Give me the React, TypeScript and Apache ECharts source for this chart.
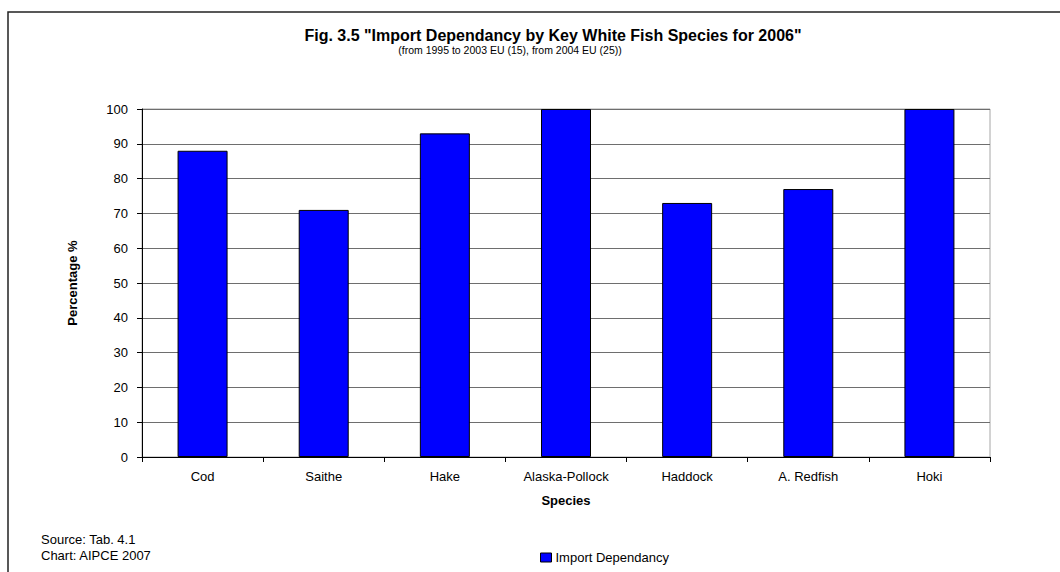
import React, { useEffect, useRef } from "react";
import * as echarts from "echarts";

// Import dependency by key white fish species, 2006 (%)
const species = ["Cod", "Saithe", "Hake", "Alaska-Pollock", "Haddock", "A. Redfish", "Hoki"];
const importDependancy = [88, 71, 93, 100, 73, 77, 100];
const seriesName = "Import Dependancy";

const titleText = 'Fig. 3.5 "Import Dependancy by Key White Fish Species for 2006"';
const subtitleText = "(from 1995 to 2003 EU (15), from 2004 EU (25))";
const sourceLines = ["Source: Tab. 4.1", "Chart: AIPCE 2007"];

const FONT = "Arial, 'Liberation Sans', sans-serif";

export default function App() {
  const ref = useRef<HTMLDivElement>(null);

  useEffect(() => {
    if (!ref.current) return;
    const chart = echarts.init(ref.current, undefined, { renderer: "svg" });
    chart.setOption({
      animation: false,
      backgroundColor: "#ffffff",
      textStyle: { fontFamily: FONT },
      grid: {
        left: 142,
        right: 70,
        top: 109,
        bottom: 115,
        show: true,
        borderColor: "#a6a6a6",
        borderWidth: 1,
      },
      legend: {
        data: [seriesName],
        icon: "rect",
        left: 540,
        top: 551,
        padding: 0,
        itemWidth: 11,
        itemHeight: 9,
        itemGap: 4,
        textStyle: { fontFamily: FONT, fontSize: 13, color: "#000", padding: [0, 0, 0, -1] },
        itemStyle: { borderColor: "#000", borderWidth: 1 },
      },
      xAxis: {
        type: "category",
        data: species,
        name: "Species",
        nameLocation: "middle",
        nameGap: 37,
        nameTextStyle: { fontFamily: FONT, fontSize: 13, fontWeight: "bold", color: "#000" },
        axisLine: { lineStyle: { color: "#000", width: 1 } },
        axisTick: { show: true, length: 5, inside: false, lineStyle: { color: "#000" } },
        axisLabel: { fontFamily: FONT, fontSize: 13, color: "#000", margin: 13 },
        splitLine: { show: false },
      },
      yAxis: {
        type: "value",
        min: 0,
        max: 100,
        interval: 10,
        name: "Percentage %",
        nameLocation: "middle",
        nameGap: 63,
        nameTextStyle: { fontFamily: FONT, fontSize: 13, fontWeight: "bold", color: "#000" },
        axisLine: { show: true, lineStyle: { color: "#000", width: 1 } },
        axisTick: { show: true, length: 5, inside: false, lineStyle: { color: "#000" } },
        axisLabel: { fontFamily: FONT, fontSize: 13, color: "#000", margin: 14 },
        splitLine: { show: true, lineStyle: { color: "#6e6e6e", width: 1 } },
      },
      series: [
        {
          name: seriesName,
          type: "bar",
          data: importDependancy,
          barWidth: 50,
          itemStyle: { color: "#0000ff", borderColor: "#000", borderWidth: 1 },
        },
      ],
      graphic: [
        {
          type: "rect",
          silent: true,
          shape: { x: 8, y: 12, width: 1200, height: 800 },
          style: { fill: "none", stroke: "#222", lineWidth: 1.5 },
        },
        {
          type: "text",
          x: 553,
          y: 35,
          style: {
            text: titleText,
            fontFamily: FONT,
            fontSize: 16,
            fontWeight: "bold",
            fill: "#000",
            textAlign: "center",
            textVerticalAlign: "middle",
          },
        },
        {
          type: "text",
          x: 510,
          y: 50,
          style: {
            text: subtitleText,
            fontFamily: FONT,
            fontSize: 10.5,
            fill: "#000",
            textAlign: "center",
            textVerticalAlign: "middle",
          },
        },
        ...sourceLines.map((line, i) => ({
          type: "text",
          x: 41,
          y: 539 + i * 16,
          style: {
            text: line,
            fontFamily: FONT,
            fontSize: 13,
            fill: "#000",
            textAlign: "left",
            textVerticalAlign: "middle",
          },
        })),
      ],
    });
    return () => chart.dispose();
  }, []);

  return (
    <div
      ref={ref}
      style={{ position: "absolute", left: 0, top: 0, width: 1060, height: 572 }}
    />
  );
}
